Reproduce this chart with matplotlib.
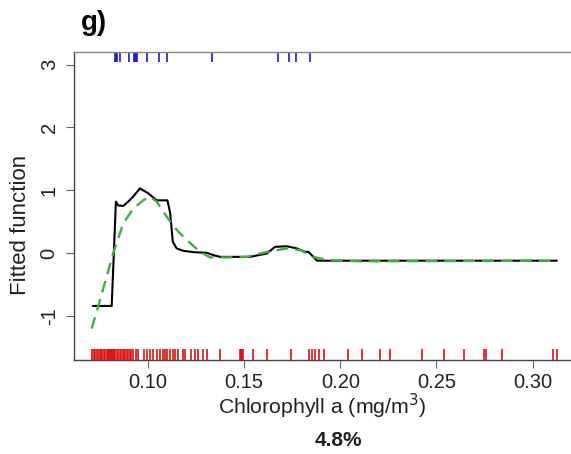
import matplotlib
matplotlib.use("Agg")
import matplotlib.pyplot as plt

plt.rcParams["font.family"] = ["Liberation Sans", "DejaVu Sans"]

# fitted function (black, stepwise)
fit_x = [0.0715, 0.0811, 0.0833, 0.0845, 0.0871, 0.0897, 0.0923, 0.0958, 0.1002,
         0.1045, 0.1101, 0.1115, 0.1129, 0.1149, 0.1184, 0.1236, 0.1306, 0.1340,
         0.1375, 0.1531, 0.1618, 0.1661, 0.1722, 0.1774, 0.1818, 0.1835, 0.1879, 0.3125]
fit_y = [-0.84, -0.84, 0.82, 0.76, 0.75, 0.82, 0.90, 1.03, 0.95,
         0.84, 0.84, 0.64, 0.18, 0.075, 0.037, 0.016, 0.005, -0.032,
         -0.059, -0.059, -0.005, 0.10, 0.11, 0.075, 0.02, 0.02, -0.12, -0.12]

# smoothed function (green dashed)
smooth_x = [0.0707, 0.0750, 0.0819, 0.0871, 0.0923, 0.0975, 0.1010, 0.1045, 0.1097,
            0.1149, 0.1201, 0.1271, 0.1323, 0.1410, 0.1514, 0.1618, 0.1722, 0.1792,
            0.1861, 0.1931, 0.2104, 0.3125]
smooth_y = [-1.20, -0.75, 0.0, 0.47, 0.71, 0.84, 0.90, 0.82, 0.58,
            0.37, 0.21, 0.02, -0.068, -0.068, -0.059, 0.02, 0.075, 0.048,
            -0.059, -0.11, -0.13, -0.12]

# rug of observations (bottom, red) and presences (top, blue)
rug_red = [0.0710, 0.0718, 0.0725, 0.0733, 0.0740, 0.0748, 0.0755, 0.0762, 0.0770,
           0.0778, 0.0785, 0.0790, 0.0795, 0.0800, 0.0805, 0.0810, 0.0815, 0.0820,
           0.0825, 0.0830, 0.0838, 0.0845, 0.0852, 0.0860, 0.0868, 0.0875, 0.0882,
           0.0890, 0.0898, 0.0905, 0.0913, 0.0920, 0.0935, 0.0950,
           0.0979, 0.0997, 0.1010, 0.1024, 0.1045, 0.1063, 0.1080, 0.1089, 0.1101,
           0.1115, 0.1132, 0.1141, 0.1158, 0.1181, 0.1193, 0.1222, 0.1245, 0.1262,
           0.1285, 0.1306, 0.1372, 0.1480, 0.1485, 0.1490, 0.1495, 0.1545, 0.1618,
           0.1743, 0.1835, 0.1853, 0.1870, 0.1887, 0.1913, 0.2038, 0.2113, 0.2208,
           0.2260, 0.2426, 0.2538, 0.2643, 0.2750, 0.2756, 0.2842, 0.3108, 0.3125]
rug_blue = [0.0828, 0.0834, 0.0839, 0.0854, 0.0901, 0.0927, 0.0933, 0.0938, 0.0943,
            0.0995, 0.1057, 0.1099, 0.1333, 0.1677, 0.1734, 0.1771, 0.1844]

x_ticks = [0.10, 0.15, 0.20, 0.25, 0.30]
y_ticks = [-1, 0, 1, 2, 3]

fig = plt.figure(figsize=(5.71, 4.54), dpi=100)
ax = fig.add_axes([0.1296, 0.207, 0.8704, 0.6785])

ax.plot(fit_x, fit_y, color="black", lw=1.5)
ax.plot(smooth_x, smooth_y, color="#3cb043", lw=1.7, ls=(0, (5, 3)))

ymin, ymax = -1.70, 3.20
ax.vlines(rug_red, ymin, ymin + 0.17, color="#dd1111", lw=1.2)
ax.vlines(rug_blue, ymax - 0.16, ymax, color="#1a1ad0", lw=1.2)

ax.set_xlim(0.0615, 0.320)
ax.set_ylim(ymin, ymax)
ax.set_xticks(x_ticks)
ax.set_xticklabels(["%.2f" % v for v in x_ticks])
ax.set_yticks(y_ticks)
ax.set_yticklabels([str(v) for v in y_ticks], rotation=90, va="center")

for s in ["left", "bottom", "top"]:
    ax.spines[s].set_color("#444444")
    ax.spines[s].set_linewidth(1.0)
ax.spines["top"].set_color("#888888")
ax.spines["right"].set_visible(False)
ax.tick_params(axis="both", labelsize=14.5, length=6, color="#666666", labelcolor="#222222")
ax.tick_params(axis="y", pad=5)
ax.tick_params(axis="x", pad=3)

ax.set_xlabel("Chlorophyll a (mg/m$^3$)", fontsize=15.3, color="#222222", labelpad=0)
ax.set_ylabel("Fitted function", fontsize=16, color="#222222")
ax.yaxis.set_label_coords(-0.086, 0.438)
fig.text(0.592, 0.030, "4.8%", fontsize=15, fontweight="bold", ha="center", va="center",
         color="#222222")
fig.text(0.142, 0.950, "g)", fontsize=20, fontweight="bold", ha="left", va="center")

fig.savefig("out.png", dpi=100)
